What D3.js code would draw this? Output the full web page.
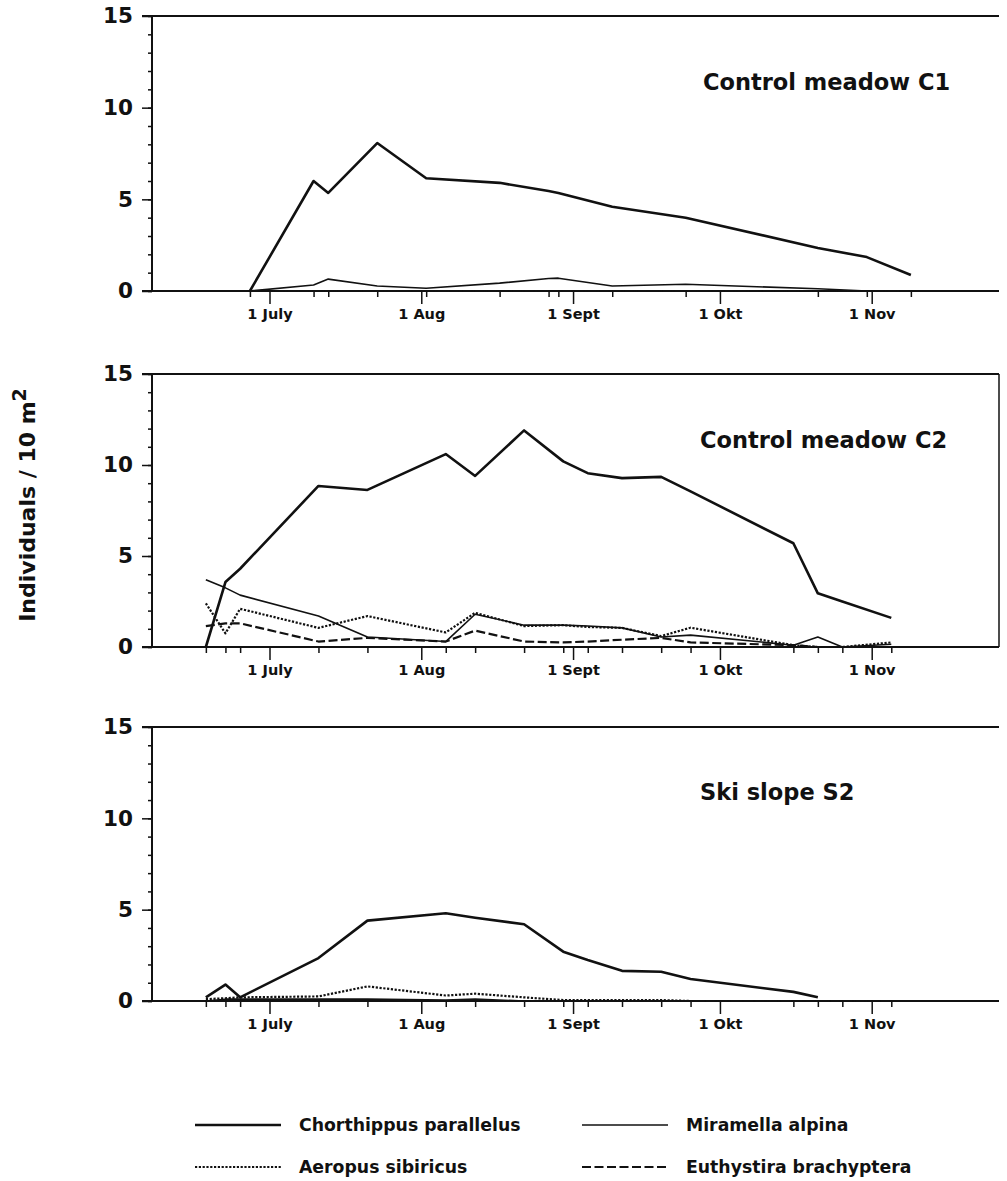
<!DOCTYPE html>
<html>
<head>
<meta charset="utf-8">
<script src="https://cdn.jsdelivr.net/npm/d3@7"></script>
<style>
  body { margin: 0; background: #fff; }
  svg { display: block; font-family: "DejaVu Sans", sans-serif; font-weight: bold; }
</style>
</head>
<body>
<div id="chart"></div>
<script>
// Month labels on the x axis
const monthLabels = ["1 July", "1 Aug", "1 Sept", "1 Okt", "1 Nov"];
const monthDates  = ["07-01", "08-01", "09-01", "10-01", "11-01"];

// Control meadow C1 – sampling dates and counts
const c1Dates = ["06-27", "07-10", "07-13", "07-23", "08-02", "08-17", "08-27", "08-29", "09-09", "09-24", "10-21", "10-31", "11-09"];
const c1Chorthippus = [0, 6.0, 5.35, 8.07, 6.15, 5.9, 5.45, 5.35, 4.6, 4.0, 2.35, 1.85, 0.87];
const c1Miramella   = [0, 0.33, 0.65, 0.27, 0.15, 0.43, 0.68, 0.7, 0.27, 0.37, 0.12, 0, null];
const c1Aeropus     = [0, 0, 0, 0, 0, 0, 0, 0, 0, 0, 0, 0, 0];
const c1Euthystira  = [0, 0, 0, 0, 0, 0, 0, 0, 0, 0, 0, 0, 0];

// Control meadow C2
const c2Dates = ["06-18", "06-22", "06-25", "07-11", "07-21", "08-06", "08-12", "08-22", "08-30", "09-04", "09-11", "09-19", "09-25", "10-16", "10-21", "10-26", "11-05"];
const c2Chorthippus = [0, 3.57, 4.3, 8.85, 8.63, 10.6, 9.4, 11.9, 10.2, 9.55, 9.28, 9.35, 8.55, 5.7, 2.95, 2.5, 1.6];
const c2Miramella   = [3.7, 3.25, 2.85, 1.7, 0.55, 0.3, 1.8, 1.2, 1.2, 1.15, 1.05, 0.55, 0.65, 0.1, 0.55, 0, 0.15];
const c2Aeropus     = [2.4, 0.75, 2.1, 1.05, 1.7, 0.8, 1.88, 1.15, 1.2, 1.1, 1.05, 0.6, 1.06, 0.1, 0, 0, 0.25];
const c2Euthystira  = [1.15, 1.3, 1.3, 0.3, 0.5, 0.3, 0.9, 0.3, 0.25, 0.3, 0.4, 0.5, 0.25, 0.1, 0, 0, 0];

// Ski slope S2
const s2Dates = ["06-18", "06-22", "06-25", "07-11", "07-21", "08-06", "08-12", "08-22", "08-30", "09-04", "09-11", "09-19", "09-25", "10-16", "10-21", "10-26", "11-05"];
const s2Chorthippus = [0.2, 0.9, 0.2, 2.35, 4.4, 4.8, 4.56, 4.2, 2.7, 2.24, 1.65, 1.6, 1.2, 0.5, 0.2, null, null];
const s2Miramella   = [0, 0.1, 0.1, 0.1, 0.1, 0.05, 0.1, 0, 0, 0, 0, 0, 0, 0, 0, 0, 0];
const s2Aeropus     = [0.1, 0.15, 0.2, 0.25, 0.8, 0.3, 0.4, 0.2, 0.05, 0.05, 0.05, 0.05, 0, 0, 0, 0, 0];
const s2Euthystira  = [0, 0, 0, 0, 0, 0, 0, 0, 0, 0, 0, 0, 0, 0, 0, 0, 0];

const species = ["Chorthippus parallelus", "Miramella alpina", "Aeropus sibiricus", "Euthystira brachyptera"];

const lineStyle = {
  "Chorthippus parallelus": { width: 2.6, dash: null },
  "Miramella alpina":       { width: 1.6, dash: null },
  "Aeropus sibiricus":      { width: 2.2, dash: "2.2,1.6" },
  "Euthystira brachyptera": { width: 2.2, dash: "9,3.5" },
};

const panels = [
  { title: "Control meadow C1", dates: c1Dates, series: [c1Chorthippus, c1Miramella, c1Aeropus, c1Euthystira], top: 16, bottom: 291, titleX: 703, titleY: 90, rightEdge: false },
  { title: "Control meadow C2", dates: c2Dates, series: [c2Chorthippus, c2Miramella, c2Aeropus, c2Euthystira], top: 374, bottom: 647, titleX: 700, titleY: 448, rightEdge: true },
  { title: "Ski slope S2",      dates: s2Dates, series: [s2Chorthippus, s2Miramella, s2Aeropus, s2Euthystira], top: 727, bottom: 1001, titleX: 700, titleY: 800, rightEdge: false },
];

const W = 1007, H = 1181;
const X0 = 152, X1 = 999;
const ink = "#111";
const toDate = s => new Date(`1990-${s}T00:00:00Z`);

const svg = d3.select("#chart").append("svg")
  .attr("width", W).attr("height", H)
  .attr("viewBox", `0 0 ${W} ${H}`);

const x = d3.scaleUtc()
  .domain([toDate("06-07"), toDate("11-27")])
  .range([X0, X1]);

panels.forEach(p => {
  const y = d3.scaleLinear().domain([0, 15]).range([p.bottom, p.top]);
  const g = svg.append("g");

  // Frame: top and left; the bottom is the x axis
  g.append("line").attr("x1", X0 - 10).attr("x2", X1).attr("y1", y(15)).attr("y2", y(15))
    .attr("stroke", ink).attr("stroke-width", 2);
  g.append("line").attr("x1", X0).attr("x2", X0).attr("y1", y(15)).attr("y2", y(0))
    .attr("stroke", ink).attr("stroke-width", 2);
  if (p.rightEdge) {
    g.append("line").attr("x1", X1).attr("x2", X1).attr("y1", y(15)).attr("y2", y(0))
      .attr("stroke", ink).attr("stroke-width", 1.5);
  }

  // Y axis: minor ticks every unit, major every 5
  const yMinor = g.append("g").attr("transform", `translate(${X0},0)`)
    .call(d3.axisLeft(y).tickValues(d3.range(0, 16)).tickSize(4).tickFormat(""));
  const yMajor = g.append("g").attr("transform", `translate(${X0},0)`)
    .call(d3.axisLeft(y).tickValues([0, 5, 10, 15]).tickSize(10).tickPadding(9));
  [yMinor, yMajor].forEach(a => {
    a.select(".domain").remove();
    a.selectAll("line").attr("stroke", ink).attr("stroke-width", 1.5);
  });
  yMajor.selectAll("text").attr("font-size", 21.5).attr("fill", ink)
    .attr("font-family", "DejaVu Sans").attr("font-weight", "bold");

  // X axis line
  g.append("line").attr("x1", X0 - 10).attr("x2", X1).attr("y1", y(0)).attr("y2", y(0))
    .attr("stroke", ink).attr("stroke-width", 2);

  // Sampling-date ticks and month ticks
  const xSample = g.append("g").attr("transform", `translate(0,${y(0)})`)
    .call(d3.axisBottom(x).tickValues(p.dates.map(toDate)).tickSize(6).tickFormat(""));
  const xMonth = g.append("g").attr("transform", `translate(0,${y(0)})`)
    .call(d3.axisBottom(x).tickValues(monthDates.map(toDate)).tickSize(13).tickPadding(5)
      .tickFormat((d, i) => monthLabels[i]));
  [xSample, xMonth].forEach(a => {
    a.select(".domain").remove();
    a.selectAll("line").attr("stroke", ink).attr("stroke-width", 1.5);
  });
  xMonth.selectAll("text").attr("font-size", 14.5).attr("fill", ink)
    .attr("font-family", "DejaVu Sans").attr("font-weight", "bold");

  // Series lines
  const line = d3.line()
    .defined(d => d.v !== null)
    .x(d => x(d.date))
    .y(d => y(d.v));

  species.forEach((name, si) => {
    const pts = p.dates.map((s, i) => ({ date: toDate(s), v: p.series[si][i] }));
    const st = lineStyle[name];
    g.append("path")
      .datum(pts)
      .attr("d", line)
      .attr("fill", "none")
      .attr("stroke", ink)
      .attr("stroke-width", st.width)
      .attr("stroke-dasharray", st.dash)
      .attr("stroke-linejoin", "round");
  });

  g.append("text")
    .attr("x", p.titleX).attr("y", p.titleY)
    .attr("font-size", 22.5).attr("fill", ink)
    .text(p.title);
});

// Y axis title
svg.append("text")
  .attr("transform", "translate(35,505) rotate(-90)")
  .attr("text-anchor", "middle")
  .attr("font-size", 22)
  .attr("fill", ink)
  .text("Individuals / 10 m")
  .append("tspan").attr("dy", -9).attr("font-size", 19).text("2");

// Legend, two columns
const legendPos = [
  { x: 195, y: 1125 }, { x: 582, y: 1125 },
  { x: 195, y: 1167 }, { x: 582, y: 1167 },
];
const legendOrder = ["Chorthippus parallelus", "Miramella alpina", "Aeropus sibiricus", "Euthystira brachyptera"];

const lg = svg.append("g").selectAll("g").data(legendOrder).enter().append("g")
  .attr("transform", (d, i) => `translate(${legendPos[i].x},${legendPos[i].y})`);

lg.append("line")
  .attr("x1", 0).attr("x2", 86)
  .attr("stroke", ink)
  .attr("stroke-width", d => lineStyle[d].width)
  .attr("stroke-dasharray", d => lineStyle[d].dash);

lg.append("text")
  .attr("x", 104).attr("dy", "0.35em")
  .attr("font-size", 17.3)
  .attr("fill", ink)
  .text(d => d);
</script>
</body>
</html>
